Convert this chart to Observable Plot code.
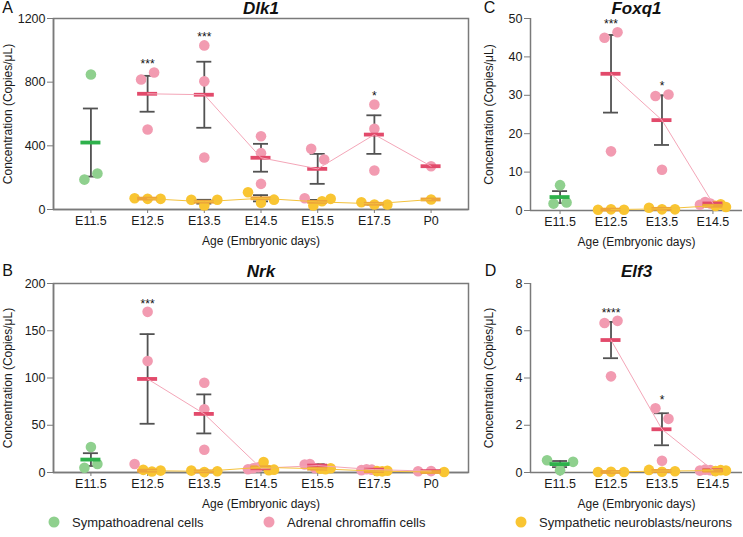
<!DOCTYPE html>
<html><head><meta charset="utf-8">
<script src="https://cdn.jsdelivr.net/npm/d3@7"></script>
<script src="https://cdn.jsdelivr.net/npm/@observablehq/plot@0.6"></script>
<style>
body{margin:0;background:#fff;font-family:"Liberation Sans",Arial,sans-serif;}
#root{position:relative;width:743px;height:537px;overflow:hidden;background:#fff;}
.panel{position:absolute;}
.leg{position:absolute;top:514px;height:16px;display:flex;align-items:center;font-size:13px;color:#222;white-space:nowrap;}
.leg svg{margin-right:12px;}
</style></head><body><div id="root"></div>
<script>
// ---------- data ----------
const agesLong = ["E11.5","E12.5","E13.5","E14.5","E15.5","E17.5","P0"];
const agesShort = ["E11.5","E12.5","E13.5","E14.5"];
const cellTypes = ["Sympathoadrenal cells","Adrenal chromaffin cells","Sympathetic neuroblasts/neurons"];

// Dlk1 (copies/µL), one inner list per age
const dlk1Sympathoadrenal = [[848,188,226],[],[],[],[],[],[]];
const dlk1Chromaffin      = [[],[817,861,503],[1031,805,327],[460,354,161],[381,314,71],[660,507,245],[272]];
const dlk1Neuroblasts     = [[],[71,67,67],[61,25,61],[108,42,62],[25,52,67],[46,31,31],[63]];

// Nrk
const nrkSympathoadrenal = [[27,5,9],[],[],[],[],[],[]];
const nrkChromaffin      = [[],[170,118,9],[95,67,24],[3.5,4.5,5.5],[8.5,9,4.5],[2.5,3.5,3],[1.4,1.5]];
const nrkNeuroblasts     = [[],[2.8,1,2],[2,0.4,1.4],[11,2.5,3],[4,3.5,4.5],[1.5,1.2,1.8],[0.5]];

// Foxq1
const foxq1Sympathoadrenal = [[6.6,1.8,2.1],[],[],[]];
const foxq1Chromaffin      = [[],[45,46.4,15.4],[29.8,30.2,10.6],[1.5,2.2,1.8]];
const foxq1Neuroblasts     = [[],[0.2,0.3,0.2],[0.7,0.3,0.3],[1.2,1.6,0.9]];

// Elf3
const elf3Sympathoadrenal = [[0.52,0.1,0.45],[],[],[]];
const elf3Chromaffin      = [[],[6.33,6.42,4.07],[2.72,2.27,0.5],[0.08,0.12,0.1]];
const elf3Neuroblasts     = [[],[0.02,0.03,0.02],[0.11,0.03,0.05],[0.06,0.1,0.08]];

// significance labels (over adrenal chromaffin cells)
const dlk1Stars  = [["E12.5","***"],["E13.5","***"],["E17.5","*"]];
const nrkStars   = [["E12.5","***"]];
const foxq1Stars = [["E12.5","***"],["E13.5","*"]];
const elf3Stars  = [["E12.5","****"],["E13.5","*"]];

const dlk1Ticks = [0,400,800,1200];
const nrkTicks = [0,50,100,150,200];
const foxq1Ticks = [0,10,20,30,40,50];
const elf3Ticks = [0,2,4,6,8];

// ---------- styles ----------
const DOT = ["#8fd08e","#f29bb1","#f9c532"];
const MEAN = ["#2eb14b","#e24a6b","#eda53a"];
const LINE = [null,"#f4a6b8","#f4c23c"];
const FONT = '"Liberation Sans", Arial, sans-serif';
const AXIS = "#7a7a7a";

function panel(cfg) {
  const {ages, series, ymax, yticks, title, letter, box, stars, left, top, width, height, margin, pad, letterDx, ytitleDx, headDy} = cfg;
  const [mt, mr, mb, ml] = margin;
  const n = ages.length;
  const pxu = (width - ml - mr) / (n - 1 + 2 * pad);
  const pyu = (height - mt - mb) / ymax;

  const points = [];
  series.forEach((byAge, s) => byAge.forEach((vals, i) => vals.forEach(v => points.push({series: s, age: i, value: v}))));

  // spread overlapping points horizontally (column scatter)
  for (const [, pts] of d3.group(points, d => d.age)) {
    const parent = pts.map((_, i) => i);
    const find = i => parent[i] === i ? i : (parent[i] = find(parent[i]));
    for (let i = 0; i < pts.length; i++) for (let j = i + 1; j < pts.length; j++) {
      const thr = pts[i].series === pts[j].series ? 11 : 7;
      if (Math.abs(pts[i].value - pts[j].value) * pyu < thr) parent[find(i)] = find(j);
    }
    const clusters = d3.groups(pts.map((p, i) => [p, i]), ([, i]) => find(i));
    for (const [, mem] of clusters) {
      const k = mem.length;
      const S = k > 1 ? Math.min(13, 26 / (k - 1)) : 0;
      mem.forEach(([p], m) => p.off = (m - (k - 1) / 2) * S);
    }
  }
  points.forEach(p => p.x = p.age + p.off / pxu);

  const stats = [];
  series.forEach((byAge, s) => byAge.forEach((vals, i) => {
    if (!vals.length) return;
    const mean = d3.mean(vals);
    const sem = vals.length > 1 ? d3.deviation(vals) / Math.sqrt(vals.length) : null;
    stats.push({series: s, age: i, mean, lo: sem == null ? null : mean - sem, hi: sem == null ? null : mean + sem});
  }));
  const withErr = stats.filter(d => d.hi != null);

  const starData = stars.map(([age, label]) => {
    const i = ages.indexOf(age);
    const vals = series[1][i];
    const st = stats.find(d => d.series === 1 && d.age === i);
    return {age: i, label, top: Math.max(d3.max(vals), st.hi ?? 0)};
  });

  const capH = 7.5 / pxu, barH = 10 / pxu;
  const marks = [];
  if (box) marks.push(Plot.frame({stroke: AXIS, strokeWidth: 1.5}));
  marks.push(Plot.ruleY([0], {stroke: AXIS, strokeWidth: 1.5}));
  marks.push(Plot.ruleX([-pad], {stroke: AXIS, strokeWidth: 1.5}));
  marks.push(Plot.axisY({ticks: yticks, tickFormat: d => String(d), tickSize: 6, tickPadding: 2, stroke: AXIS, fill: "#1a1a1a", label: null, fontSize: 12.5}));
  marks.push(Plot.axisX({ticks: d3.range(n), tickFormat: i => ages[i], tickSize: 4, tickPadding: 3, stroke: AXIS, fill: "#1a1a1a", label: null, fontSize: 12.5}));
  // error bars
  marks.push(Plot.ruleX(withErr, {x: "age", y1: "lo", y2: "hi", stroke: "#525252", strokeWidth: 1.8}));
  marks.push(Plot.ruleY(withErr, {y: "hi", x1: d => d.age - capH, x2: d => d.age + capH, stroke: "#525252", strokeWidth: 1.8}));
  marks.push(Plot.ruleY(withErr, {y: "lo", x1: d => d.age - capH, x2: d => d.age + capH, stroke: "#525252", strokeWidth: 1.8}));
  // points
  marks.push(Plot.dot(points, {x: "x", y: "value", r: 5.3, fill: d => DOT[d.series], stroke: "none"}));
  // mean bars
  marks.push(Plot.ruleY(stats, {y: "mean", x1: d => d.age - barH, x2: d => d.age + barH, stroke: d => MEAN[d.series], strokeWidth: 3.8}));
  // connecting lines
  [1, 2].forEach(s => {
    const st = stats.filter(d => d.series === s);
    if (st.length > 1) marks.push(Plot.line(st, {x: "age", y: "mean", stroke: LINE[s], strokeWidth: 1}));
  });
  // stars
  marks.push(Plot.text(starData, {x: "age", y: "top", text: "label", dy: -8, fontSize: 12, fill: "#111"}));
  // titles
  marks.push(Plot.text([title], {text: d => d, frameAnchor: "top", dy: headDy, lineAnchor: "middle", textAnchor: "middle", fontSize: 17, fontWeight: "bold", fontStyle: "italic", fill: "#111"}));
  marks.push(Plot.text([letter], {text: d => d, frameAnchor: "top-left", dx: letterDx, dy: headDy - 1, lineAnchor: "middle", textAnchor: "middle", fontSize: 16, fill: "#111"}));
  marks.push(Plot.text(["Concentration (Copies/\u03bcL)"], {text: d => d, frameAnchor: "left", dx: ytitleDx, rotate: -90, lineAnchor: "middle", textAnchor: "middle", fontSize: 12, fill: "#1a1a1a"}));
  marks.push(Plot.text(["Age (Embryonic days)"], {text: d => d, frameAnchor: "bottom", dy: 32, lineAnchor: "middle", textAnchor: "middle", fontSize: 12, fill: "#1a1a1a"}));

  const chart = Plot.plot({
    width, height,
    marginTop: mt, marginRight: mr, marginBottom: mb, marginLeft: ml,
    x: {type: "linear", domain: [-pad, n - 1 + pad], axis: null},
    y: {domain: [0, ymax], axis: null},
    style: {fontFamily: FONT, fontSize: "12px", background: "transparent", overflow: "visible"},
    marks
  });
  chart.classList.add("panel");
  chart.style.left = left + "px";
  chart.style.top = top + "px";
  document.getElementById("root").appendChild(chart);
}

panel({ages: agesLong, series: [dlk1Sympathoadrenal, dlk1Chromaffin, dlk1Neuroblasts], ymax: 1200, yticks: dlk1Ticks,
  title: "Dlk1", letter: "A", box: true, stars: dlk1Stars, left: 0, top: 0, width: 470, height: 250,
  margin: [18, 2, 41, 53], pad: 0.66, letterDx: -46, ytitleDx: -45, headDy: -10});
panel({ages: agesShort, series: [foxq1Sympathoadrenal, foxq1Chromaffin, foxq1Neuroblasts], ymax: 50, yticks: foxq1Ticks,
  title: "Foxq1", letter: "C", box: false, stars: foxq1Stars, left: 470, top: 0, width: 273, height: 250,
  margin: [18, 1, 40, 60], pad: 0.58, letterDx: -41, ytitleDx: -41, headDy: -10});
panel({ages: agesLong, series: [nrkSympathoadrenal, nrkChromaffin, nrkNeuroblasts], ymax: 200, yticks: nrkTicks,
  title: "Nrk", letter: "B", box: true, stars: nrkStars, left: 0, top: 250, width: 470, height: 270,
  margin: [33, 2, 48, 53], pad: 0.66, letterDx: -46, ytitleDx: -45, headDy: -12});
panel({ages: agesShort, series: [elf3Sympathoadrenal, elf3Chromaffin, elf3Neuroblasts], ymax: 8, yticks: elf3Ticks,
  title: "Elf3", letter: "D", box: false, stars: elf3Stars, left: 470, top: 250, width: 273, height: 270,
  margin: [33, 1, 48, 60], pad: 0.58, letterDx: -40, ytitleDx: -41, headDy: -12});

// legend
const legendX = [54, 269, 521];
cellTypes.forEach((name, i) => {
  const div = document.createElement("div");
  div.className = "leg";
  div.style.left = (legendX[i] - 6) + "px";
  div.innerHTML = `<svg width="12" height="12"><circle cx="6" cy="6" r="5.5" fill="${DOT[i]}"></circle></svg><span>${name}</span>`;
  document.getElementById("root").appendChild(div);
});
</script>
</body></html>
